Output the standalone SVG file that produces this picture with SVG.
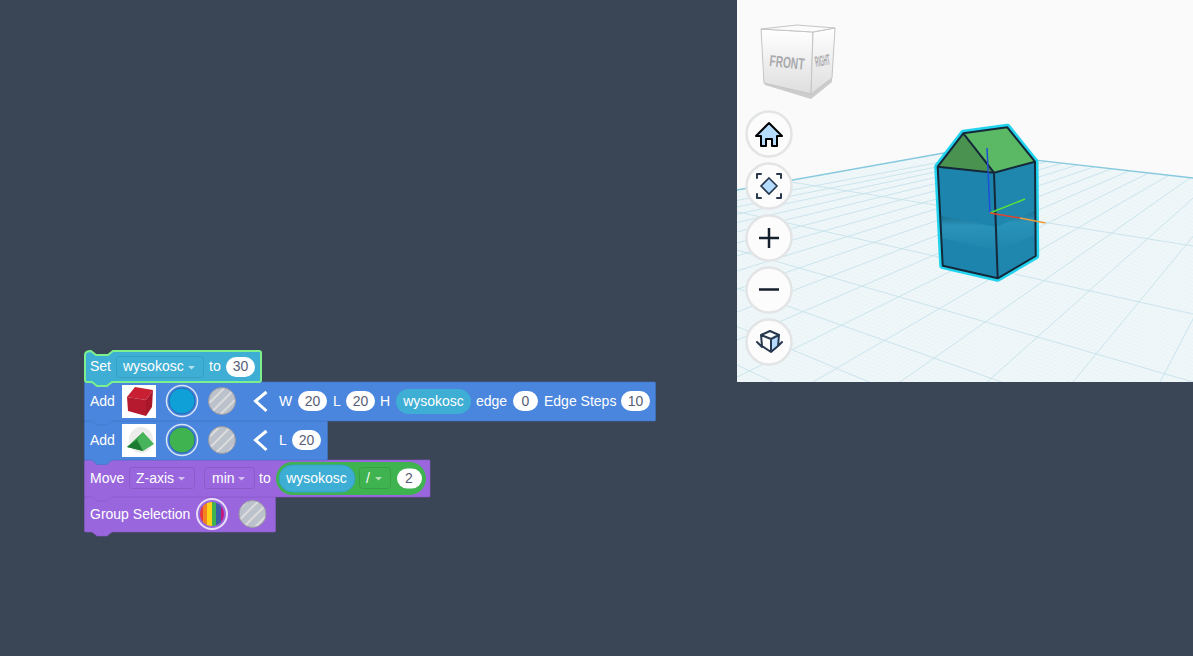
<svg xmlns="http://www.w3.org/2000/svg" width="1193" height="656" viewBox="0 0 1193 656">
<defs>
<linearGradient id="fade" x1="0" y1="0" x2="0" y2="1"><stop offset="0" stop-color="#ffffff"/><stop offset="1" stop-color="#dedede"/></linearGradient>
<linearGradient id="band" x1="0" y1="0" x2="0" y2="1"><stop offset="0" stop-color="#1a7496"/><stop offset=".3" stop-color="#2a93b8"/><stop offset="1" stop-color="#1f87ae"/></linearGradient>
<pattern id="stripe" width="8" height="8" patternUnits="userSpaceOnUse" patternTransform="rotate(45)"><rect width="8" height="8" fill="#bcc2cc"/><rect width="2" height="8" fill="#dcdcdc"/></pattern>
<pattern id="mesh" width="10" height="10" patternUnits="userSpaceOnUse" patternTransform="matrix(.42 -.25 .42 .15 0 0)"><rect width="10" height="10" fill="#f0f7f9"/><path d="M0 0H10M0 0V10" stroke="#dcecf1" stroke-width="1.200" fill="none"/></pattern>
<clipPath id="floor"><polygon points="737,190 955,151 1193,178 1193,382 737,382"/></clipPath>
<clipPath id="rb"><circle cx="212" cy="514" r="12"/></clipPath>
</defs>
<style>
text{font-family:"Liberation Sans",Arial,sans-serif;font-size:14px;fill:#fff}
.n{fill:#575e75;text-anchor:middle}
.m{text-anchor:middle}
.pill{fill:#fff}
.hole{fill:url(#stripe);stroke:#9a9aa2;stroke-width:1}
.ring{fill:none;stroke:#d9e4f5;stroke-width:1.500}
.dd{fill:#fff;opacity:.6}
.btn{fill:#fcfcfc;stroke:#e3e4e6;stroke-width:2.500}
.ic{fill:none;stroke:#27384e;stroke-width:2;stroke-linejoin:round;stroke-linecap:round}
.edge{fill:none;stroke:#14283a;stroke-width:2;stroke-linejoin:round}
.major{stroke:#c6e2eb;stroke-width:.9;fill:none}
.cubetext{font-weight:bold;fill:#a9a9ad}
</style>
<rect width="1193" height="656" fill="#3a4555"/>
<g id="viewport">
<rect x="737" width="456" height="382" fill="#fafafa"/>
<polygon points="737,190 955,151 1193,178 1193,382 737,382" fill="url(#mesh)"/>
<g clip-path="url(#floor)">
<path class="major" d="M1312 92L1160 382M1312 92L1073 382M1312 92L987 382M1312 92L900 382M1312 92L813 382M1312 92L727 382M1312 92L640 382M1312 92L554 382M1312 92L467 382M1312 92L380 382M1312 92L294 382M1312 92L207 382M1312 92L120 382M1312 92L34 382M1312 92L-53 382M1312 92L-140 382M1312 92L-226 382"/>
<path class="major" d="M150 80L1193 246M150 80L1193 314M150 80L1193 382M150 80L1193 450M150 80L1193 518M150 80L1193 586M150 80L1193 654"/>
</g>
<path d="M737 190L955 151L1193 178" fill="none" stroke="#86c9de" stroke-width="1.300"/>
</g>
<g id="cube">
<polygon points="765,85 811,99 832,82 832,78 811,94 764,83" fill="#cccccc"/>
<polygon points="761,29 813,32 811,94 764,83" fill="url(#fade)" stroke="#c4c4c4"/>
<polygon points="813,32 835,28 832,78 811,94" fill="url(#fade)" stroke="#c4c4c4"/>
<polygon points="761,29 797,25 835,28 813,32" fill="#fbfbfb" stroke="#c4c4c4"/>
<text class="cubetext" x="769" y="66" transform="rotate(6 769 66)" style="font-size:16px" textLength="35" lengthAdjust="spacingAndGlyphs">FRONT</text>
<text class="cubetext" x="816" y="67" transform="rotate(-10 816 67)" style="font-size:15px" textLength="15" lengthAdjust="spacingAndGlyphs">RIGHT</text>
</g>
<g id="home"><circle class="btn" cx="769" cy="134" r="22.5"/><path d="M769 123L782 136H777V146H772V139H766V146H761V136H756Z" fill="#b5dcff" stroke="#000" stroke-width="2" stroke-linejoin="round"/></g>
<g id="fit"><circle class="btn" cx="769" cy="186" r="22.5"/><polygon points="769,178 777,186 769,194 761,186" fill="#b5dcff" stroke="#27384e" stroke-width="1.600"/><path class="ic" d="M757 178V174H761M777 174H781V178M781 194V198H777M761 198H757V194"/></g>
<g id="zoomin"><circle class="btn" cx="769" cy="238" r="22.5"/><path d="M769 228V248M759 238H779" stroke="#14202e" stroke-width="2.500"/></g>
<g id="zoomout"><circle class="btn" cx="769" cy="290" r="22.5"/><path d="M759 289.500H779" stroke="#14202e" stroke-width="2.500"/></g>
<g id="view3d"><circle class="btn" cx="769" cy="342" r="22.5"/><polygon points="771,338 779,333 778,346 771,352" fill="#b5dcff"/><path class="ic" d="M761 335L770 331L779 335L771 339ZM761 335L762 346L771 352L778 346L779 335M771 339V352M757 342L762 347M782 342L778 346"/></g>
<g id="shape">
<polygon points="937.700,166.700 963.300,133.300 1007.300,127.300 1035,161.700 1035.700,256 997.700,278.300 942.700,265.700" fill="none" stroke="#22d3ee" stroke-width="7" stroke-linejoin="round"/>
<polygon points="937.700,166.700 994,172.700 997.700,278.300 942.700,265.700" fill="#1d85ad"/>
<polygon points="994,172.700 1035,161.700 1035.700,256 997.700,278.300" fill="#1f87ae"/>
<polygon points="937.700,166.700 963.300,133.300 994,172.700" fill="#4a924f"/>
<polygon points="963.300,133.300 1007.300,127.300 1035,161.700 994,172.700" fill="#5bb966"/>
<path d="M941 216L996 227V250L941 238Z" fill="url(#band)"/>
<path d="M996 227L1035 211V235L996 250Z" fill="url(#band)"/>
<path class="edge" d="M937.700 166.700L963.300 133.300L1007.300 127.300L1035 161.700L1035.700 256L997.700 278.300L942.700 265.700ZM937.700 166.700L994 172.700L997.700 278.300M994 172.700L1035 161.700M963.300 133.300L994 172.700"/>
<path d="M987 148L990 213" stroke="#1d4fd8" stroke-width="1.500"/>
<path d="M990 213L1025 199" stroke="#58e03a" stroke-width="1.500"/>
<path d="M990 213L1020 218" stroke="#e0442e" stroke-width="1.500"/>
<path d="M1020 218L1045.500 223" stroke="#f09a3a" stroke-width="1.500"/>
</g>
<g id="block-group">
<path d="M85.500 497H274.500Q275.500 497 275.500 498V531Q275.500 532 274.500 532H112L107 536H97L92 532H85.500Q84.500 532 84.500 531V498Q84.500 497 85.500 497Z" fill="#9966dd" stroke="#8a5cc8" stroke-width=".6"/>
<text x="90" y="519">Group Selection</text>
<circle cx="212" cy="514" r="15" fill="none" stroke="#e8def8" stroke-width="2"/>
<g clip-path="url(#rb)"><rect x="199" y="501" width="4" height="26" fill="#e8383d"/><rect x="203" y="501" width="4" height="26" fill="#f58220"/><rect x="207" y="501" width="5" height="26" fill="#fcd116"/><rect x="212" y="501" width="4" height="26" fill="#3fb34f"/><rect x="216" y="501" width="5" height="26" fill="#3b5ea8"/><rect x="221" y="501" width="4" height="26" fill="#c2187f"/></g>
<circle class="hole" cx="252.500" cy="514" r="13.500"/>
</g>
<g id="block-move">
<path d="M85.500 460H429Q430 460 430 461V496Q430 497 429 497H112L107 501H97L92 497H85.500Q84.500 497 84.500 496V461Q84.500 460 85.500 460Z" fill="#9966dd" stroke="#8a5cc8" stroke-width=".6"/>
<text x="90" y="483">Move</text>
<rect x="129.500" y="467.500" width="65" height="21" rx="3" fill="#9966dd" stroke="#8a5cc8"/>
<text x="136" y="483">Z-axis</text><path class="dd" d="M178 477h7l-3.500 3.500z"/>
<rect x="204.500" y="467.500" width="50" height="21" rx="3" fill="#9966dd" stroke="#8a5cc8"/>
<text x="212" y="483">min</text><path class="dd" d="M238 477h7l-3.500 3.500z"/>
<text x="259" y="483">to</text>
<rect x="276" y="462" width="150" height="33" rx="16.500" fill="#3fb34f"/>
<rect x="279" y="465" width="76" height="27" rx="13.500" fill="#3eaed4" stroke="#369fc2"/>
<text class="m" x="316.500" y="483">wysokosc</text>
<rect x="359.500" y="467.500" width="31" height="21" rx="3" fill="#3fb34f" stroke="#379f46"/>
<text x="366" y="483">/</text><path class="dd" d="M375 477h7l-3.500 3.500z"/>
<rect class="pill" x="397" y="468.500" width="25" height="20" rx="10"/>
<text class="n" x="409" y="483">2</text>
</g>
<g id="block-add-roof">
<path d="M85.500 421H326.500Q327.500 421 327.500 422V459Q327.500 460 326.500 460H112L107 464.500H97L92 460H85.500Q84.500 460 84.500 459V422Q84.500 421 85.500 421Z" fill="#4a86de" stroke="#3f76c8" stroke-width=".6"/>
<text x="90" y="445">Add</text>
<rect x="122" y="424" width="34" height="33" fill="#fff"/>
<ellipse cx="141" cy="440" rx="12" ry="13" fill="#ececec"/>
<polygon points="127,447 143,432 143,451" fill="#2e9e44"/><polygon points="143,432 154,444 143,451 137,440" fill="#47b35a"/><polygon points="127,447 137,440 143,451" fill="#1d7a33"/>
<circle cx="182" cy="440" r="15.500" class="ring"/><circle cx="182" cy="440" r="13" fill="#3fb34f" stroke="#2d66b4"/>
<circle class="hole" cx="222" cy="440" r="13.500"/>
<path d="M266.500 431L255.500 440L266.500 450" fill="none" stroke="#fff" stroke-width="3"/>
<text x="279" y="445">L</text>
<rect class="pill" x="292" y="430" width="29" height="20" rx="10"/><text class="n" x="306.500" y="445">20</text>
</g>
<g id="block-add-box">
<path d="M85.500 382H654.500Q655.500 382 655.500 383V420Q655.500 421 654.500 421H112L107 425H97L92 421H85.500Q84.500 421 84.500 420V383Q84.500 382 85.500 382Z" fill="#4a86de" stroke="#3f76c8" stroke-width=".6"/>
<text x="90" y="406">Add</text>
<rect x="122" y="385" width="34" height="33" fill="#fff"/>
<polygon points="127,397 135,387 153,390 146,400" fill="#c91f33"/><polygon points="127,397 146,400 146,416 128,411" fill="#b51a2e"/><polygon points="146,400 153,390 152,407 146,416" fill="#a8162a"/>
<circle cx="182" cy="401" r="15.500" class="ring"/><circle cx="182" cy="401" r="13" fill="#0ea0d6" stroke="#2d66b4"/>
<circle class="hole" cx="222" cy="401" r="13.500"/>
<path d="M266.500 392L255.500 401L266.500 411" fill="none" stroke="#fff" stroke-width="3"/>
<text x="279" y="406">W</text>
<rect class="pill" x="298" y="391" width="29" height="20" rx="10"/><text class="n" x="312.500" y="406">20</text>
<text x="333" y="406">L</text>
<rect class="pill" x="346" y="391" width="29" height="20" rx="10"/><text class="n" x="360.500" y="406">20</text>
<text x="380" y="406">H</text>
<rect x="396" y="389" width="75" height="25" rx="12.500" fill="#3eaed4"/>
<text class="m" x="433.500" y="406">wysokosc</text>
<text x="476" y="406">edge</text>
<rect class="pill" x="513" y="391" width="25" height="20" rx="10"/><text class="n" x="525.500" y="406">0</text>
<text x="544" y="406">Edge Steps</text>
<rect class="pill" x="621" y="391" width="29" height="20" rx="10"/><text class="n" x="635.500" y="406">10</text>
</g>
<g id="block-set">
<path d="M91 351L96 355H108L113 351H259Q261 351 261 353V380Q261 382 259 382H112L107 386H97L92 382H87Q85 382 85 380V355Q85 351 91 351Z" fill="#3eaed4" stroke="#7cf08c" stroke-width="2"/>
<text x="90" y="371">Set</text>
<rect x="116.500" y="356.500" width="87" height="21" rx="3" fill="#3eaed4" stroke="#369fc2"/>
<text x="123" y="371">wysokosc</text><path class="dd" d="M188 366h7l-3.500 3.500z"/>
<text x="209" y="371">to</text>
<rect class="pill" x="226" y="357" width="29" height="20" rx="10"/><text class="n" x="240.500" y="371">30</text>
</g>
</svg>
